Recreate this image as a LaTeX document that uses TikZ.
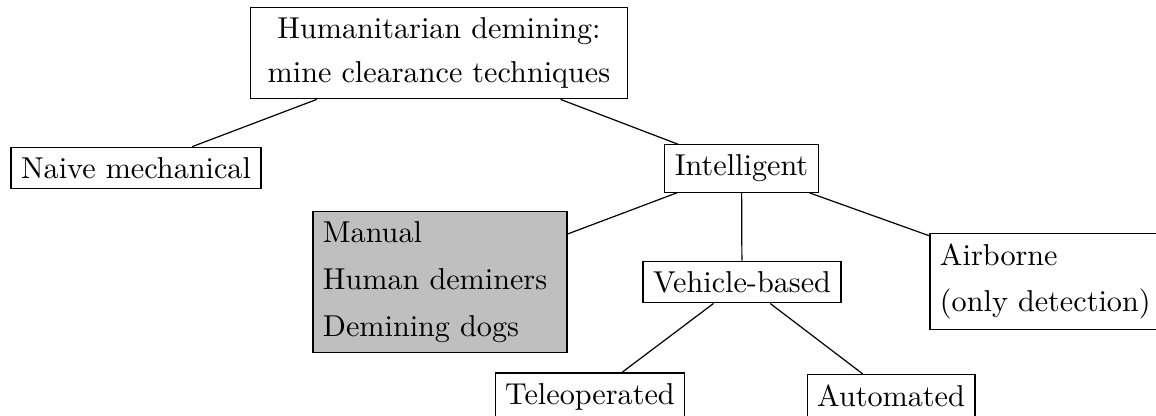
\documentclass[tikz,border=0pt]{standalone}
\usetikzlibrary{positioning}

\tikzset{
  leaf/.style={draw, line width=0.4pt, inner sep=3.33pt, font=\fontsize{10pt}{12pt}\selectfont},
  titlebox/.style={leaf, align=center, text width=118pt, font=\fontsize{10pt}{14.8pt}\selectfont},
  listbox/.style={leaf, align=left, text width=77.5pt, font=\fontsize{10pt}{15.5pt}\selectfont},
  edge/.style={draw, line width=0.4pt}
}

\begin{document}
\begin{tikzpicture}[x=0.3311pt, y=-0.3311pt]
  \useasboundingbox (0,0) rectangle (1156,416);

  % root
  \node[titlebox] (root) at (439,53) {Humanitarian demining:\\mine clearance techniques};

  % first level
  \node[leaf] (naive) at (136,168) {Naive mechanical};
  \node[leaf] (intel) at (741.5,168.5) {Intelligent};

  % second level
  \node[listbox, fill=lightgray] (manual) at (440,282) {Manual\\Human deminers\\Demining dogs};
  \node[leaf] (vehicle) at (742,282) {Vehicle-based};
  \node[listbox] (air) at (1057,281.5) {Airborne\\(only detection)};

  % third level
  \node[leaf] (tele) at (590,396.5) {Teleoperated};
  \node[leaf] (auto) at (891,395.5) {Automated};

  % connectors
  \draw[edge] (root) -- (naive);
  \draw[edge] (root) -- (intel);
  \draw[edge] (intel) -- (manual);
  \draw[edge] (intel) -- (vehicle);
  \draw[edge] (intel) -- (air);
  \draw[edge] (vehicle) -- (tele);
  \draw[edge] (vehicle) -- (auto);
\end{tikzpicture}
\end{document}
